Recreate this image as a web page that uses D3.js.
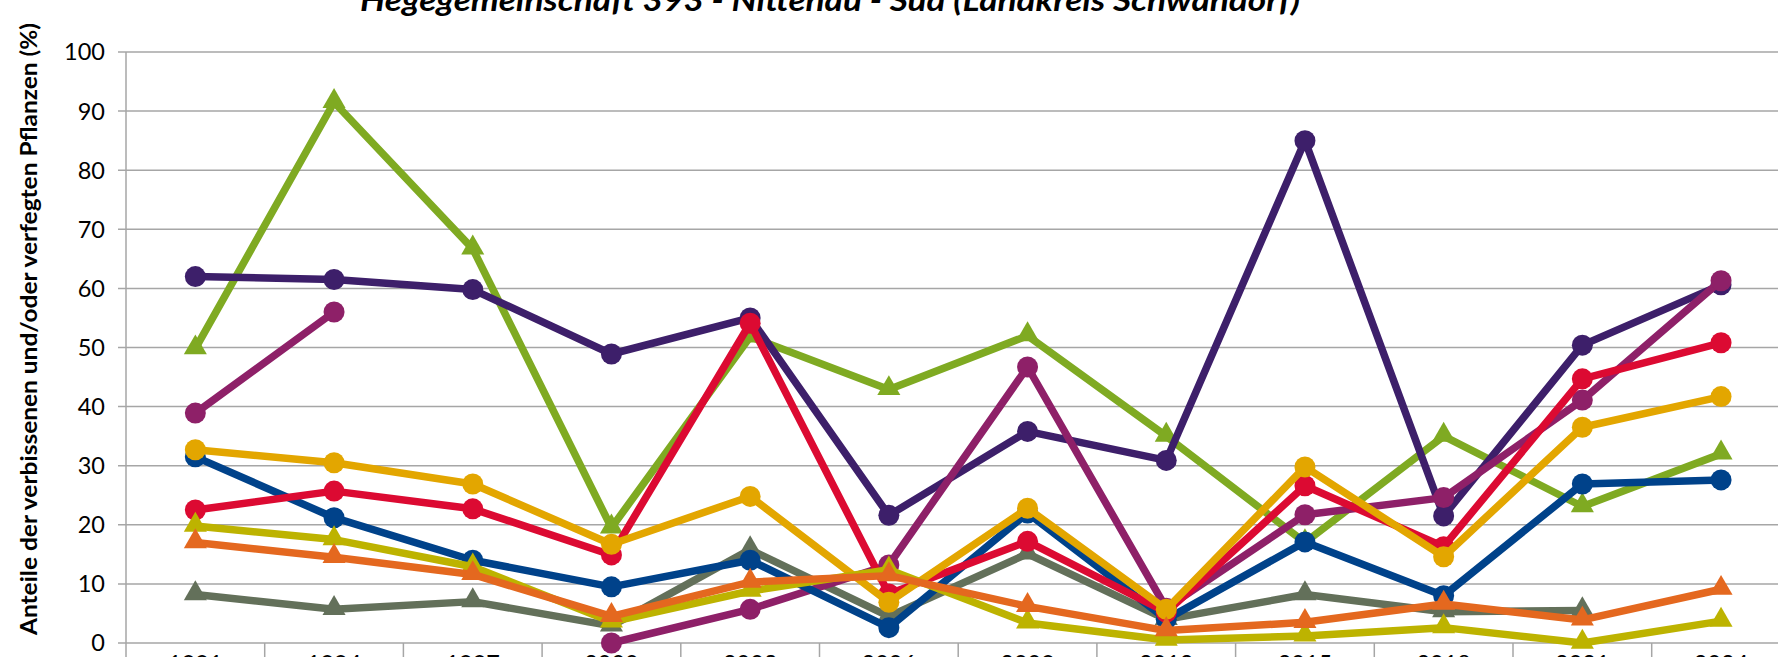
<!DOCTYPE html>
<html>
<head>
<meta charset="utf-8">
<script src="https://cdn.jsdelivr.net/npm/d3@7"></script>
<style>
  body { margin: 0; background: #fff; overflow: hidden; }
  text { font-family: Lato, "Open Sans", sans-serif; }
</style>
</head>
<body>
<svg width="1778" height="657"></svg>
<script>
const years = ['1991', '1994', '1997', '2000', '2003', '2006', '2009', '2012', '2015', '2018', '2021', '2024']
const yTicks = [0, 10, 20, 30, 40, 50, 60, 70, 80, 90, 100]

// values per series (null = no value)
const greenTri  = [49.8, 91.5, 66.7, 19.5, 51.8, 42.9, 52, 35, 17, 35, 23.1, 32]
const greyTri   = [8.2, 5.7, 7.0, 2.9, 15.8, 4.5, 15.1, 4.0, 8.2, 5.3, 5.5, null]
const purple    = [62, 61.5, 59.8, 48.9, 55, 21.6, 35.8, 30.9, 85, 21.5, 50.4, 60.6]
const magenta   = [38.9, 56, null, 0, 5.7, 13.2, 46.7, 5.9, 21.7, 24.6, 41.1, 61.3]
const blue      = [31.5, 21.2, 14.0, 9.5, 14, 2.6, 22, 4, 17.1, 8, 26.9, 27.6]
const red       = [22.5, 25.7, 22.7, 14.9, 54.1, 8.3, 17.2, 5.2, 26.6, 16.3, 44.7, 50.8]
const gold      = [32.7, 30.5, 26.9, 16.7, 24.8, 6.9, 22.8, 5.7, 29.8, 14.6, 36.5, 41.7]
const yellowTri = [19.8, 17.5, 12.9, 3.6, 8.8, 12.4, 3.4, 0.5, 1.2, 2.6, 0, 3.7]
const orangeTri = [17.0, 14.5, 11.6, 4.5, 10.3, 11.4, 6.2, 2.1, 3.5, 6.6, 3.9, 9.1]

// drawing order = bottom to top
const series = [
  { values: greenTri,  color: '#7FAA22', marker: 'triangle' },
  { values: greyTri,   color: '#63705A', marker: 'triangle' },
  { values: purple,    color: '#3D1F6A', marker: 'circle' },
  { values: magenta,   color: '#8E2068', marker: 'circle' },
  { values: blue,      color: '#00428A', marker: 'circle' },
  { values: red,       color: '#DC0A32', marker: 'circle' },
  { values: gold,      color: '#E3A600', marker: 'circle' },
  { values: yellowTri, color: '#BDB300', marker: 'triangle' },
  { values: orangeTri, color: '#E4681F', marker: 'triangle' }
]

const svg = d3.select('svg')

const left = 126
const step = 138.7

const x = d3.scaleBand()
    .domain(years)
    .range([left, left + step * years.length])

const y = d3.scaleLinear()
    .domain([0, 100])
    .range([643, 52])

// horizontal gridlines
svg.append('g')
    .selectAll('line')
    .data(yTicks)
    .join('line')
      .attr('x1', left - 8)
      .attr('x2', x.range()[1])
      .attr('y1', d => y(d))
      .attr('y2', d => y(d))
      .attr('stroke', '#A6A6A6')
      .attr('stroke-width', 1.5)

// y axis line
svg.append('line')
    .attr('x1', left).attr('x2', left)
    .attr('y1', y(100)).attr('y2', y(0))
    .attr('stroke', '#A6A6A6')
    .attr('stroke-width', 1.5)

// x tick marks between categories
svg.append('g')
    .selectAll('line')
    .data(years.concat(['end']))
    .join('line')
      .attr('x1', (d, i) => left + i * step)
      .attr('x2', (d, i) => left + i * step)
      .attr('y1', y(0))
      .attr('y2', y(0) + 20)
      .attr('stroke', '#A6A6A6')
      .attr('stroke-width', 1.5)

// y tick labels
svg.append('g')
    .selectAll('text')
    .data(yTicks)
    .join('text')
      .attr('x', 105)
      .attr('y', d => y(d))
      .attr('dy', '0.36em')
      .attr('text-anchor', 'end')
      .attr('font-size', 23.5)
      .attr('fill', '#000')
      .text(d => d)

// x tick labels (mostly below the frame)
svg.append('g')
    .selectAll('text')
    .data(years)
    .join('text')
      .attr('x', d => x(d) + x.bandwidth() / 2)
      .attr('y', 672)
      .attr('text-anchor', 'middle')
      .attr('font-size', 23.5)
      .attr('fill', '#000')
      .text(d => d)

// y axis title
svg.append('text')
    .attr('transform', 'translate(37, 329) rotate(-90)')
    .attr('text-anchor', 'middle')
    .attr('font-size', 23)
    .attr('font-weight', 'bold')
    .attr('textLength', 612)
    .attr('lengthAdjust', 'spacingAndGlyphs')
    .text('Anteile der verbissenen und/oder verfegten Pflanzen (%)')

// chart title, cut at the top edge
svg.append('text')
    .attr('x', 830)
    .attr('y', 11)
    .attr('text-anchor', 'middle')
    .attr('font-size', 30)
    .attr('font-weight', 'bold')
    .attr('font-style', 'italic')
    .attr('textLength', 940)
    .attr('lengthAdjust', 'spacingAndGlyphs')
    .text('Hegegemeinschaft 393 - Nittenau - Süd (Landkreis Schwandorf)')

const cx = (d, i) => x(years[i]) + x.bandwidth() / 2

const line = d3.line()
    .defined(d => d != null)
    .x(cx)
    .y(d => y(d))

const triangle = d3.symbol().type(d3.symbolTriangle).size(230)

series.forEach(s => {
  const g = svg.append('g')

  g.append('path')
      .datum(s.values)
      .attr('d', line)
      .attr('fill', 'none')
      .attr('stroke', s.color)
      .attr('stroke-width', 7.5)
      .attr('stroke-linejoin', 'round')

  const pts = s.values
      .map((v, i) => ({ v, i }))
      .filter(d => d.v != null)

  if (s.marker === 'circle') {
    g.selectAll('circle')
        .data(pts)
        .join('circle')
          .attr('cx', d => cx(d.v, d.i))
          .attr('cy', d => y(d.v))
          .attr('r', 10.5)
          .attr('fill', s.color)
  } else {
    g.selectAll('path.m')
        .data(pts)
        .join('path')
          .attr('class', 'm')
          .attr('transform', d => `translate(${ cx(d.v, d.i) }, ${ y(d.v) - 1 })`)
          .attr('d', triangle)
          .attr('fill', s.color)
  }
})
</script>
</body>
</html>
